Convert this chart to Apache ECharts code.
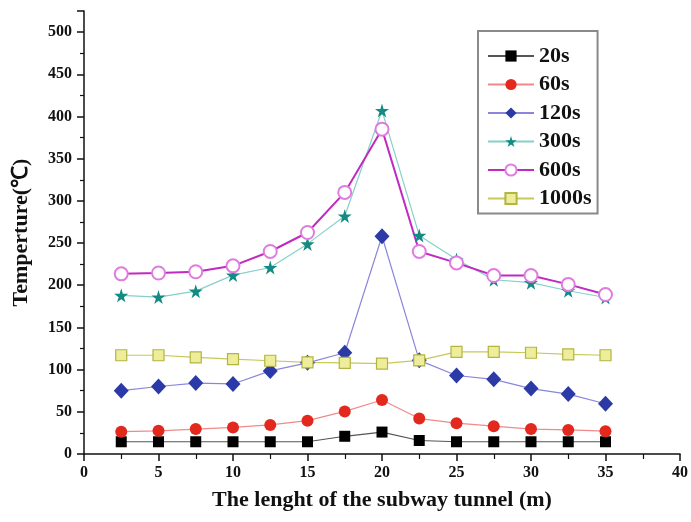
<!DOCTYPE html>
<html>
<head>
<meta charset="utf-8">
<script src="https://cdn.jsdelivr.net/npm/echarts@6/dist/echarts.min.js"></script>
<style>
  html, body { margin: 0; padding: 0; background: #fff; }
  #chart { width: 691px; height: 522px; }
</style>
</head>
<body>
<div id="chart"></div>
<script>
// tunnel length positions (m)
const positions = [2.5, 5, 7.5, 10, 12.5, 15, 17.5, 20, 22.5, 25, 27.5, 30, 32.5, 35];

// temperature at each moment (°C)
const t20 = [14.5, 14.5, 14.5, 14.5, 14.5, 14.5, 21, 26, 16, 14.5, 14.5, 14.5, 14.5, 14.5];
const t60 = [26.5, 27.5, 29.5, 31.5, 34.5, 39.5, 50.5, 64, 42, 36.5, 33, 29.5, 28.5, 27];
const t120 = [75, 80, 84, 83, 98.5, 108, 120, 258, 111, 93, 88.5, 77.5, 71, 59.5];
const t300 = [188, 186, 193, 212, 221, 249, 282, 407, 259, 230.5, 206.5, 203, 193.5, 185.5];
const t600 = [213.5, 214.5, 216, 223, 240, 262.5, 310, 385, 240, 226.5, 211.5, 211.5, 201, 189];
const t1000 = [117, 117, 114.5, 112.5, 110.5, 108.5, 108, 107, 111, 121, 121, 120, 118, 117];

const seriesNames = ['20s', '60s', '120s', '300s', '600s', '1000s'];

const font = '"Liberation Serif", "Times New Roman", serif';
const star = 'path://M50,0 L61,35 L98,35 L68,57 L79,91 L50,70 L21,91 L32,57 L2,35 L39,35 Z';

function pairs(ys) {
  return positions.map((x, i) => [x, ys[i]]);
}

let myChart = echarts.init(document.getElementById('chart'));

option = {
  animation: false,
  grid: { left: 84, right: 8, top: 11, bottom: 68 },
  legend: {
    orient: 'vertical',
    left: 478,
    top: 31,
    padding: [14, 6, 4, 9],
    itemWidth: 46,
    itemHeight: 14,
    itemGap: 6.5,
    itemTextGap: 7,
    borderColor: '#8a8a8a',
    borderWidth: 2,
    data: seriesNames,
    textStyle: { fontFamily: font, fontWeight: 'bold', fontSize: 22, color: '#111' }
  },
  xAxis: {
    type: 'value',
    min: 0,
    max: 40,
    interval: 5,
    name: 'The lenght of the subway tunnel (m)',
    nameLocation: 'middle',
    nameGap: 35,
    nameTextStyle: { fontFamily: font, fontWeight: 'bold', fontSize: 22, color: '#111' },
    axisLine: { lineStyle: { color: '#111', width: 1.5 } },
    axisTick: { inside: false, length: 7, lineStyle: { color: '#111', width: 1.5 } },
    minorTick: { show: true, splitNumber: 2, length: 5, lineStyle: { color: '#111', width: 1.2 } },
    axisLabel: { fontFamily: font, fontWeight: 'bold', fontSize: 16, color: '#111', margin: 11 },
    splitLine: { show: false }
  },
  yAxis: {
    type: 'value',
    min: 0,
    max: 525,
    interval: 50,
    name: 'Temperture(℃)',
    nameLocation: 'middle',
    nameGap: 52,
    nameTextStyle: { fontFamily: font, fontWeight: 'bold', fontSize: 22, color: '#111' },
    axisLine: { show: true, lineStyle: { color: '#111', width: 1.5 } },
    axisTick: { show: true, inside: false, length: 7, lineStyle: { color: '#111', width: 1.5 } },
    minorTick: { show: true, splitNumber: 2, length: 4, lineStyle: { color: '#111', width: 1.2 } },
    axisLabel: {
      fontFamily: font, fontWeight: 'bold', fontSize: 16, color: '#111', margin: 12,
      showMaxLabel: false
    },
    splitLine: { show: false }
  },
  series: [
    {
      name: '20s', type: 'line', data: pairs(t20),
      symbol: 'rect', symbolSize: 11,
      lineStyle: { color: '#555', width: 1.2 },
      itemStyle: { color: '#000' }
    },
    {
      name: '60s', type: 'line', data: pairs(t60),
      symbol: 'circle', symbolSize: 12,
      lineStyle: { color: '#f08a8a', width: 1.2 },
      itemStyle: { color: '#e3281e' }
    },
    {
      name: '120s', type: 'line', data: pairs(t120),
      symbol: 'diamond', symbolSize: [15, 16],
      lineStyle: { color: '#8a86dc', width: 1.2 },
      itemStyle: { color: '#2b3aa6' }
    },
    {
      name: '300s', type: 'line', data: pairs(t300),
      symbol: star, symbolSize: 14,
      lineStyle: { color: '#86d0c8', width: 1.2 },
      itemStyle: { color: '#138a82' }
    },
    {
      name: '600s', type: 'line', data: pairs(t600),
      symbol: 'emptyCircle', symbolSize: 13,
      lineStyle: { color: '#c02ac0', width: 2 },
      itemStyle: { color: '#e07ce0', borderWidth: 1.2 }
    },
    {
      name: '1000s', type: 'line', data: pairs(t1000),
      symbol: 'rect', symbolSize: 11,
      lineStyle: { color: '#c8c85a', width: 1.2 },
      itemStyle: { color: '#eeee9a', borderColor: '#b4b444', borderWidth: 1.2 }
    }
  ]
};

myChart.setOption(option);
</script>
</body>
</html>
